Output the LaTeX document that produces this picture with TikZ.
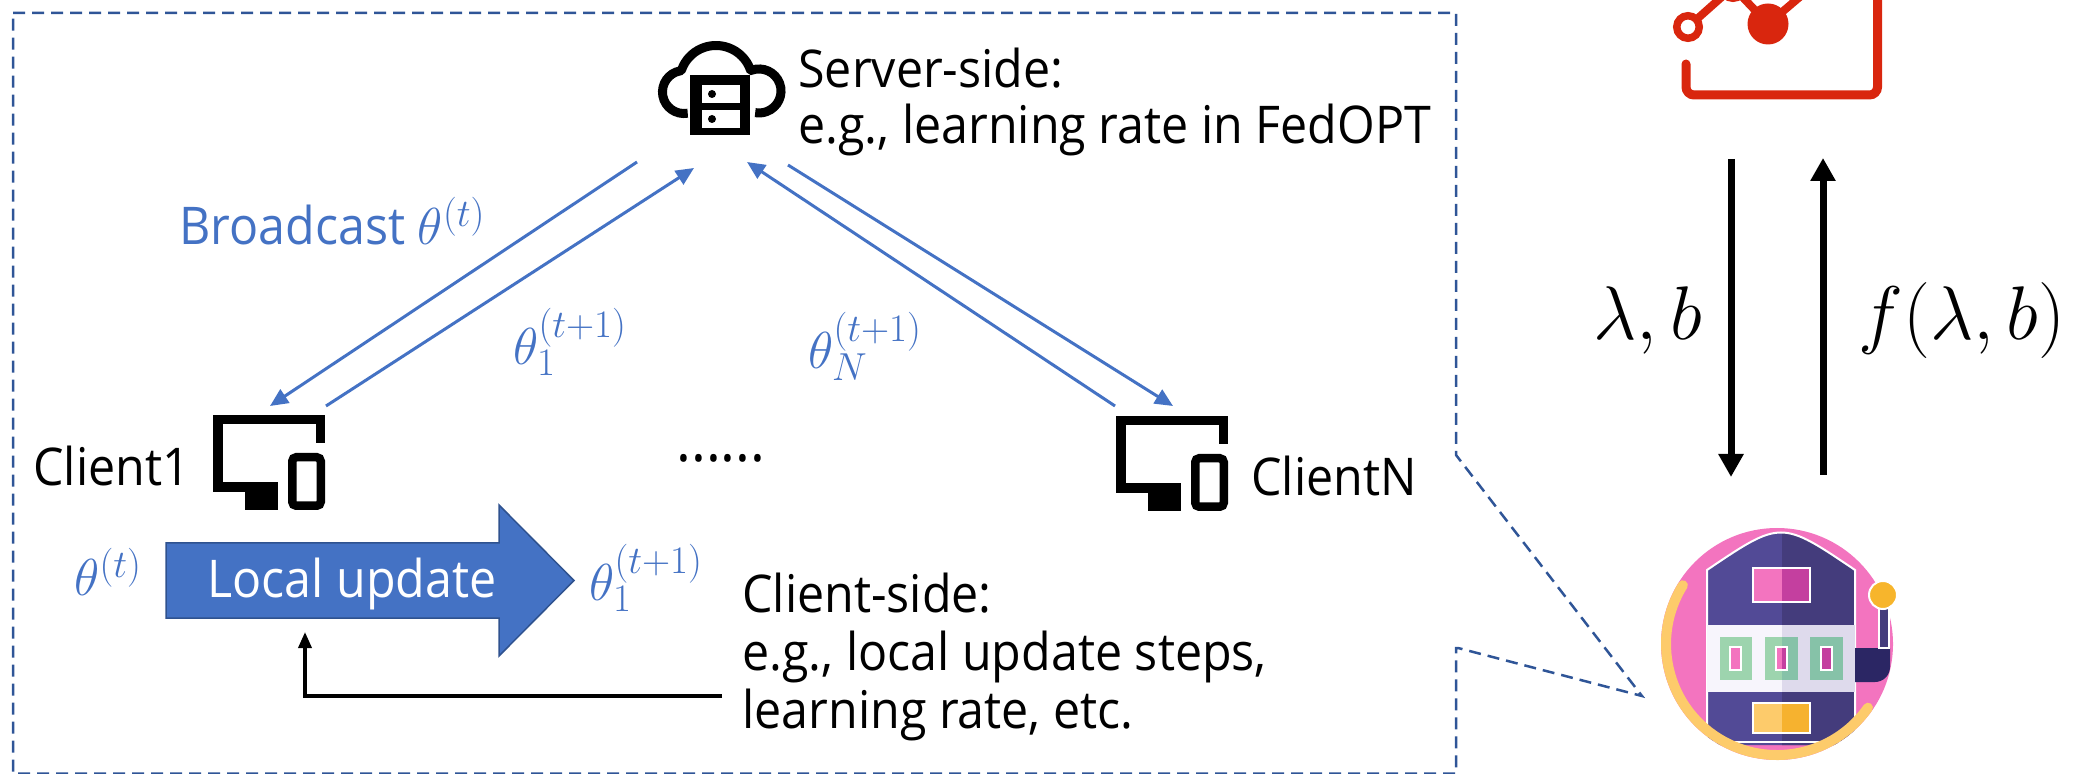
\RequirePackage{fix-cm}
\documentclass[tikz,border=0pt]{standalone}
\usepackage{fontspec}
\newfontfamily\uifont[FakeStretch=0.93]{Open Sans}
\usetikzlibrary{arrows.meta}
\DeclareMathSizes{26}{26}{19.5}{15}

\definecolor{fedblue}{HTML}{4472C4}
\definecolor{arrowedge}{HTML}{2F528F}
\definecolor{boxblue}{HTML}{2F5597}
\definecolor{chartred}{HTML}{D9260E}
\definecolor{slotpink}{HTML}{F374BF}
\definecolor{arcyellow}{HTML}{FDCB6B}
\definecolor{slotpurple}{HTML}{524A96}
\definecolor{slotpurpledk}{HTML}{443C7C}
\definecolor{bandL}{HTML}{F7F5FC}
\definecolor{bandR}{HTML}{DEDAEC}
\definecolor{reelL}{HTML}{9DD4AE}
\definecolor{reelR}{HTML}{86C2A8}
\definecolor{pinkL}{HTML}{F374BF}
\definecolor{pinkR}{HTML}{C43F9F}
\definecolor{yelL}{HTML}{FDCB6B}
\definecolor{yelR}{HTML}{F6B22F}
\definecolor{levernavy}{HTML}{2B2664}
\definecolor{ballyellow}{HTML}{F7B52C}

\begin{document}
\begin{tikzpicture}[x=0.5pt,y=-0.5pt,
  txt/.style={inner sep=0pt, anchor=base west, font=\uifont\fontsize{26}{28.5}\selectfont},
  mlabel/.style={inner sep=0pt, anchor=base west, text=fedblue, font=\fontsize{26}{30}\selectfont},
  biglabel/.style={inner sep=0pt, anchor=base west, font=\fontsize{38}{44}\selectfont},
  flow/.style={draw=fedblue, line width=1.5pt, -{Triangle[length=9pt,width=8pt]}},
  tuning/.style={draw=black, line width=3.5pt, -{Triangle[length=11.5pt,width=12pt]}},
  feedback/.style={draw=black, line width=1.75pt, -{Triangle[length=8pt,width=6.5pt]}},
  callout/.style={draw=boxblue, line width=1.25pt, dash pattern=on 6pt off 3.5pt},
  clienticon/.pic={
    \draw[line width=4.75pt] (107.5,28) -- (107.5,4.75) -- (4.75,4.75) -- (4.75,72.25) -- (65,72.25);
    \fill (32,72) rectangle (65,95);
    \draw[line width=4.25pt, rounded corners=2pt] (79.25,42.25) rectangle (107.75,90.75);
  }]
\useasboundingbox (0,0) rectangle (2082,774);
\clip (0,0) rectangle (2082,774);

% ---------- callout frame around the federated system ----------
\draw[callout] (13,13) -- (1456,13) -- (1456,455) -- (1642,696) -- (1458,648)
  -- (1456,648) -- (1456,773.5) -- (13,773.5) -- cycle;

% ---------- server: cloud with a rack ----------
\draw[line width=4.5pt] (687.7,113.2) arc[start angle=80, end angle=260, radius=21.5]
  -- (681.7,69.5) arc[start angle=-160, end angle=-20, radius=36.5]
  -- (751.5,70.3) arc[start angle=-110, end angle=100, radius=22];
\fill (690,75) rectangle (750,135);
\fill[white] (702,85) rectangle (740,103);
\fill[white] (702,110) rectangle (740,128);
\fill (712,94) circle[radius=4];
\fill (712,119) circle[radius=4];

\node[txt] (srvA) at (798,88) {Server-side:};
\node[txt] (srvB) at (798,144) {e.g., learning rate in FedOPT};

% ---------- clients ----------
\pic at (213,415) {clienticon};
\pic at (1116,416) {clienticon};
\node[txt] (c1txt) at (33,486) {Client1};
\node[txt] (cNtxt) at (1251,496) {ClientN};
\node[txt, font=\uifont\fontsize{30}{30}\selectfont] (dots) at (676,462) {......};

% ---------- communication arrows ----------
\coordinate (s1out) at (637,162);
\coordinate (c1in)  at (270,406);
\coordinate (c1out) at (326,406);
\coordinate (s1in)  at (694,168);
\coordinate (cNout) at (1115,406);
\coordinate (sNin)  at (747,162);
\coordinate (sNout) at (788,165);
\coordinate (cNin)  at (1173,406);
\draw[flow] (s1out) -- (c1in);
\draw[flow] (c1out) -- (s1in);
\draw[flow] (cNout) -- (sNin);
\draw[flow] (sNout) -- (cNin);

\node[txt, text=fedblue] (bcast) at (179,245) {Broadcast {\fontsize{26}{30}\selectfont$\theta^{(t)}$}};
\node[mlabel] (up1) at (513,365) {$\theta_1^{(t+1)}$};
\node[mlabel] (upN) at (808,369) {$\theta_N^{(t+1)}$};

% ---------- local update ----------
\draw[fill=fedblue, draw=arrowedge, line width=0.75pt]
  (166,543) -- (499,543) -- (499,505) -- (574,580.5) -- (499,656) -- (499,618) -- (166,618) -- cycle;
\node[txt, text=white] (local) at (207,597) {Local update};
\node[mlabel] (thin) at (74,596) {$\theta^{(t)}$};
\node[mlabel] (thout) at (589,601) {$\theta_1^{(t+1)}$};

\node[txt] (cliA) at (742,612) {Client-side:};
\node[txt] (cliB) at (742,670) {e.g., local update steps,};
\node[txt] (cliC) at (742,728) {learning rate, etc.};
\coordinate (fbfrom) at (722,696);
\coordinate (fbto) at (305,632);
\draw[feedback] (fbfrom) -| (fbto);

% ---------- tuner (chart icon) ----------
\draw[chartred, line width=4.5pt, line cap=round, rounded corners=4pt]
  (1686,64) -- (1686,95) -- (1877.5,95) -- (1877.5,-20);
\draw[chartred, line width=4pt] (1688,27) -- (1733,-13) -- (1768,24) -- (1815,-16);
\draw[chartred, line width=3.75pt, fill=white] (1688,27) circle[radius=11.25];
\draw[chartred, line width=3.75pt, fill=white] (1733,-13) circle[radius=11.25];
\fill[chartred] (1768,24) circle[radius=20.5];

% ---------- tuner <-> system arrows ----------
\coordinate (cfgTop) at (1731,159);
\coordinate (cfgBot) at (1731,477);
\coordinate (resBot) at (1823,475);
\coordinate (resTop) at (1823,158);
\draw[tuning] (cfgTop) -- (cfgBot);
\draw[tuning] (resBot) -- (resTop);
\node[biglabel] (cfg) at (1593,340) {$\lambda, b$};
\node[biglabel] (res) at (1858,340) {$f(\lambda, b)$};

% ---------- slot machine ----------
\fill[slotpink] (1777,644) circle[radius=116];
\begin{scope}
  \clip (1777,644) circle[radius=116];
  \fill[slotpurple] (1707,745) -- (1707,570) .. controls (1781,520) .. (1855,570) -- (1855,745) -- cycle;
  \begin{scope}
    \clip (1707,745) -- (1707,570) .. controls (1781,520) .. (1855,570) -- (1855,745) -- cycle;
    \fill[slotpurpledk] (1782,500) rectangle (1860,760);
  \end{scope}
  \draw[white, line width=1pt] (1707,745) -- (1707,570) .. controls (1781,520) .. (1855,570) -- (1855,745);
  \fill[bandL] (1707,625) rectangle (1782,692);
  \fill[bandR] (1782,625) rectangle (1855,692);
  % top window
  \fill[pinkL] (1753,568) rectangle (1782,602);
  \fill[pinkR] (1782,568) rectangle (1810,602);
  \draw[white, line width=1pt] (1753,568) rectangle (1810,602);
  % reels
  \fill[reelL] (1720,637) rectangle (1752,680);
  \fill[reelL] (1765,637) rectangle (1782,680);
  \fill[reelR] (1782,637) rectangle (1798,680);
  \fill[reelR] (1810,637) rectangle (1843,680);
  \fill[pinkL] (1730,647) rectangle (1741,670);
  \fill[pinkL] (1776,647) rectangle (1782,670);
  \fill[pinkR] (1782,647) rectangle (1787,670);
  \fill[pinkR] (1821,647) rectangle (1832,670);
  \draw[white, line width=1pt] (1730,647) rectangle (1741,670);
  \draw[white, line width=1pt] (1776,647) rectangle (1787,670);
  \draw[white, line width=1pt] (1821,647) rectangle (1832,670);
  % bottom window
  \fill[yelL] (1753,703) rectangle (1782,733);
  \fill[yelR] (1782,703) rectangle (1810,733);
  \draw[white, line width=1pt] (1753,703) rectangle (1810,733);
  \draw[white, line width=1pt] (1707,742) -- (1855,742);
\end{scope}
% lever
\fill[levernavy] (1855,648) -- (1890,648) -- (1890,667) arc[start angle=0, end angle=90, radius=15] -- (1855,682) -- cycle;
\filldraw[fill=slotpurpledk, draw=white, line width=0.75pt] (1879,607) rectangle (1889,648);
\filldraw[fill=ballyellow, draw=white, line width=1pt] (1883,595) circle[radius=14];
% ring
\draw[arcyellow, line width=5pt, line cap=round] (1682.9,585.2) arc[start angle=-148, end angle=-325, radius=111];
\end{tikzpicture}
\end{document}
